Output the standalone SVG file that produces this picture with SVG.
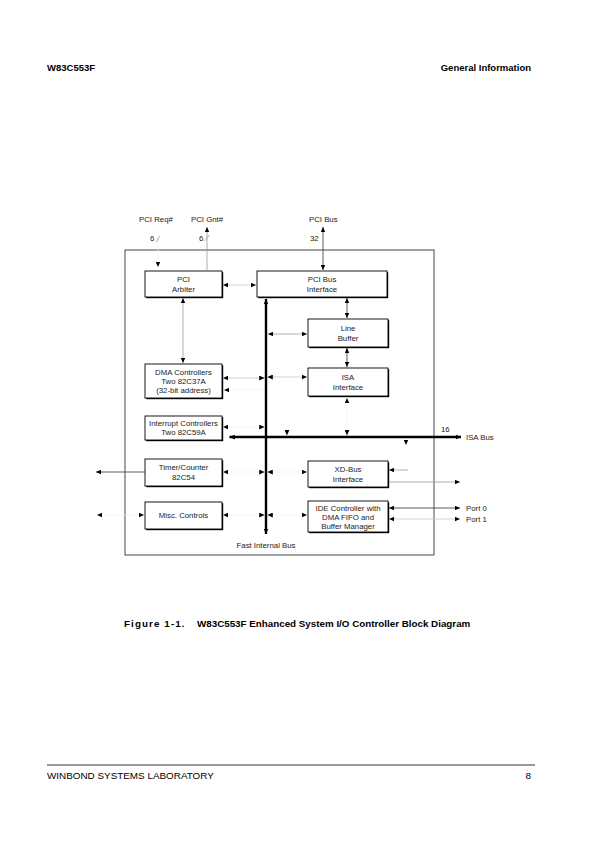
<svg xmlns="http://www.w3.org/2000/svg" width="595" height="842" viewBox="0 0 595 842">
<style>
text{font-family:"Liberation Sans",Arial,sans-serif;fill:#000}
.hd{font-size:9.5px;font-weight:bold}
.cp{font-size:9.8px;font-weight:bold}
.ft{font-size:9.9px}
.bx{font-size:7.8px;text-anchor:middle;fill:#222}
.lb{font-size:7.8px;fill:#222}
.box{fill:#fff;stroke:#000;stroke-width:0.9}
.sh{fill:#000}
.dk{stroke:#333;stroke-width:0.8;fill:none}
.gr{stroke:#999;stroke-width:0.8;fill:none}
.lt{stroke:#c8c8c8;stroke-width:0.8;fill:none}
.fn{stroke:#f2f2f2;stroke-width:0.6;fill:none}
.bus{stroke:#000;stroke-width:2.4;fill:none}
.ah{marker-end:url(#a)}
.ah2{marker-start:url(#a);marker-end:url(#a)}
.as{marker-start:url(#a)}
</style>
<defs>
<marker id="a" markerUnits="userSpaceOnUse" markerWidth="6" markerHeight="5" refX="4.5" refY="2" orient="auto-start-reverse" viewBox="0 0 5 4">
<path d="M0,0 L4.5,2 L0,4 z" fill="#000"/>
</marker>
</defs>

<g id="header">
<text class="hd" x="47" y="71">W83C553F</text>
<text class="hd" x="531" y="71" text-anchor="end">General Information</text>
</g>

<g id="frame"><rect x="125" y="250" width="309" height="305" fill="none" stroke="#333" stroke-width="0.9"/></g>

<g id="arbiter"><rect class="sh" x="146.2" y="272.2" width="77" height="26"/><rect class="box" x="145" y="271" width="77" height="26"/>
<text class="bx" x="183.5" y="282">PCI</text><text class="bx" x="183.5" y="291.5">Arbiter</text></g>
<g id="pcibi"><rect class="sh" x="258.2" y="272.2" width="130" height="26"/><rect class="box" x="257" y="271" width="130" height="26"/>
<text class="bx" x="322" y="282">PCI Bus</text><text class="bx" x="322" y="291.5">Interface</text></g>
<g id="linebuf"><rect class="sh" x="309.2" y="320.2" width="80" height="28"/><rect class="box" x="308" y="319" width="80" height="28"/>
<text class="bx" x="348" y="331">Line</text><text class="bx" x="348" y="340.5">Buffer</text></g>
<g id="isaif"><rect class="sh" x="309.2" y="369.2" width="80" height="28"/><rect class="box" x="308" y="368" width="80" height="28"/>
<text class="bx" x="348" y="380">ISA</text><text class="bx" x="348" y="389.5">Interface</text></g>
<g id="dma"><rect class="sh" x="146.2" y="365.2" width="77" height="34"/><rect class="box" x="145" y="364" width="77" height="34"/>
<text class="bx" x="183.5" y="375">DMA Controllers</text><text class="bx" x="183.5" y="384">Two 82C37A</text><text class="bx" x="183.5" y="393">(32-bit address)</text></g>
<g id="intr"><rect class="sh" x="146.2" y="417.2" width="77" height="24"/><rect class="box" x="145" y="416" width="77" height="24"/>
<text class="bx" x="183.5" y="426">Interrupt Controllers</text><text class="bx" x="183.5" y="435">Two 82C59A</text></g>
<g id="timer"><rect class="sh" x="146.2" y="460.2" width="77" height="27"/><rect class="box" x="145" y="459" width="77" height="27"/>
<text class="bx" x="183.5" y="470">Timer/Counter</text><text class="bx" x="183.5" y="479.5">82C54</text></g>
<g id="misc"><rect class="sh" x="146.2" y="503.2" width="77" height="27"/><rect class="box" x="145" y="502" width="77" height="27"/>
<text class="bx" x="183.5" y="518">Misc. Controls</text></g>
<g id="xdbus"><rect class="sh" x="309.2" y="462.2" width="80" height="26"/><rect class="box" x="308" y="461" width="80" height="26"/>
<text class="bx" x="348" y="472">XD-Bus</text><text class="bx" x="348" y="481.5">Interface</text></g>
<g id="ide"><rect class="sh" x="309.2" y="502.2" width="80" height="31"/><rect class="box" x="308" y="501" width="80" height="31"/>
<text class="bx" x="348" y="511">IDE Controller with</text><text class="bx" x="348" y="520">DMA FIFO and</text><text class="bx" x="348" y="529">Buffer Manager</text></g>

<g id="connectors">
<path class="bus as ah" d="M266,299 V534"/>
<path class="bus as ah" d="M229.5,437 H461"/>
<path class="fn ah" d="M158,228 V267"/>
<path class="gr" d="M156,242 L160,236"/>
<path class="gr ah" d="M207,271 V227"/>
<path class="gr" d="M204.5,241 L209.5,235"/>
<path class="dk ah2" d="M323,227 V270"/>
<path class="lt ah2" d="M223,285 H256"/>
<path class="gr ah2" d="M183,298 V363"/>
<path class="dk ah2" d="M347,298 V318"/>
<path class="gr ah2" d="M268,334 H307"/>
<path class="dk ah2" d="M347,348 V367"/>
<path class="lt ah2" d="M223,378 H264.6"/>
<path class="lt ah2" d="M267.4,377 H307"/>
<path class="fn as" d="M224,390 H264"/>
<path class="fn ah2" d="M223,427 H264.6"/>
<path class="fn ah2" d="M347,398 V435.5"/>
<path class="fn ah" d="M287,425 V435.5"/>
<path class="fn ah" d="M406,438.5 V445"/>
<path class="dk ah" d="M145,472 H96"/>
<path class="fn ah2" d="M223,472 H264.6"/>
<path class="fn ah2" d="M267.4,472 H307"/>
<path class="gr ah" d="M408,470 H389"/>
<path class="gr ah" d="M389,482 H460"/>
<path class="fn ah2" d="M97,515 H144"/>
<path class="fn ah2" d="M223,515 H264.6"/>
<path class="fn ah2" d="M267.4,515 H307"/>
<path class="dk ah2" d="M389,508 H460"/>
<path class="lt ah2" d="M389,519 H460"/>
</g>

<g id="labels">
<text class="lb" x="139" y="222">PCI Req#</text>
<text class="lb" x="191" y="222">PCI Gnt#</text>
<text class="lb" x="309" y="222">PCI Bus</text>
<text class="lb" x="150" y="241">6</text>
<text class="lb" x="199" y="241">6</text>
<text class="lb" x="310" y="241">32</text>
<text class="lb" x="441" y="432">16</text>
<text class="lb" x="466" y="440">ISA Bus</text>
<text class="lb" x="466" y="511">Port 0</text>
<text class="lb" x="466" y="522">Port 1</text>
<text class="lb" x="266" y="548" text-anchor="middle">Fast Internal Bus</text>
</g>

<g id="caption">
<text class="cp" x="124" y="627"><tspan letter-spacing="1.1">Figure 1-1.</tspan><tspan x="197">W83C553F Enhanced System I/O Controller Block Diagram</tspan></text>
</g>

<g id="footer">
<line x1="47" y1="765" x2="535" y2="765" stroke="#000" stroke-width="0.8"/>
<text class="ft" x="47" y="779">WINBOND SYSTEMS LABORATORY</text>
<text class="ft" x="531" y="779" text-anchor="end">8</text>
</g>
</svg>
